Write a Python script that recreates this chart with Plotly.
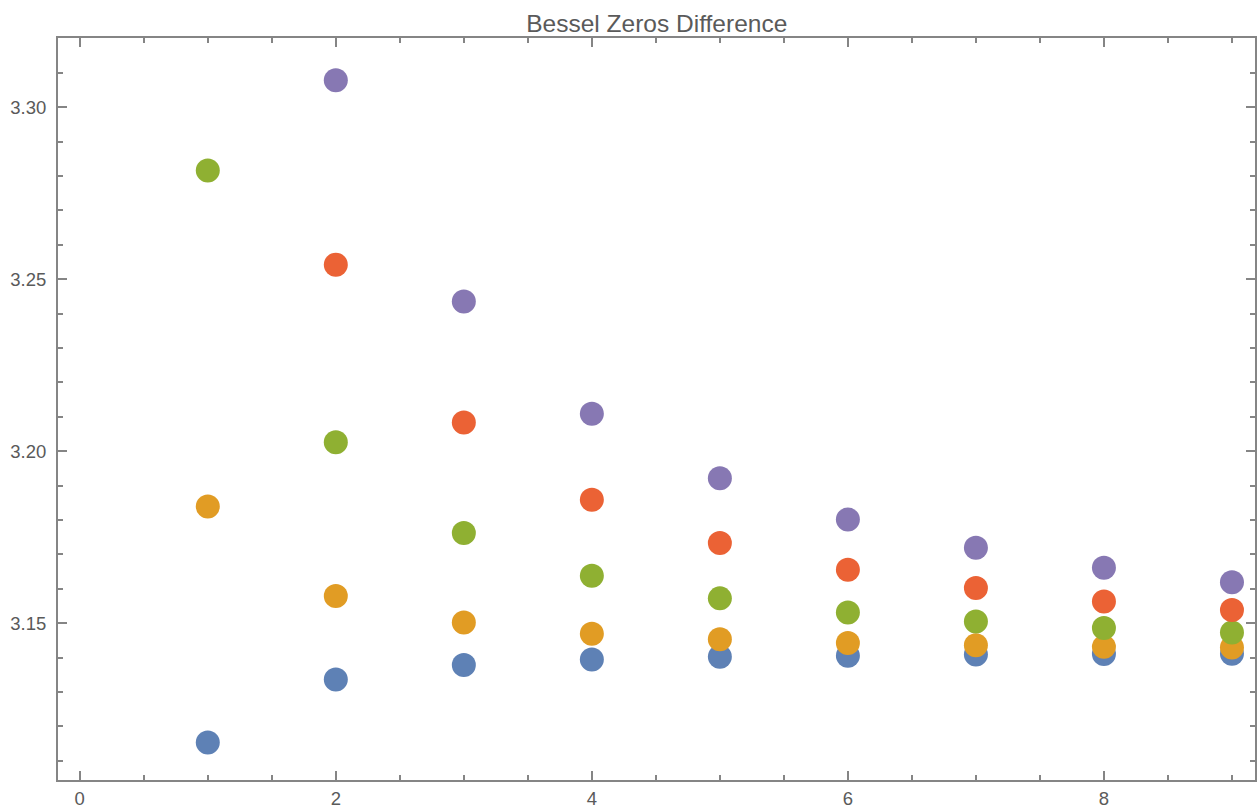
import plotly.graph_objects as go

# Spacing between consecutive zeros of J_n, for n = 0..4
idx_full = [1, 2, 3, 4, 5, 6, 7, 8, 9]
idx_from2 = [2, 3, 4, 5, 6, 7, 8, 9]

diff_j0 = [3.1153, 3.1336, 3.1378, 3.1394, 3.1402, 3.1405, 3.1409, 3.1410, 3.1411]
diff_j1 = [3.1839, 3.1579, 3.1502, 3.1469, 3.1453, 3.1442, 3.1436, 3.1431, 3.1429]
diff_j2 = [3.2816, 3.2026, 3.1762, 3.1638, 3.1572, 3.1531, 3.1505, 3.1486, 3.1473]
diff_j3 = [3.2542, 3.2083, 3.1859, 3.1733, 3.1655, 3.1602, 3.1563, 3.1538]
diff_j4 = [3.3078, 3.2435, 3.2109, 3.1921, 3.1801, 3.1719, 3.1661, 3.1619]

series = [
    ("J0", idx_full, diff_j0, "#5E81B5"),
    ("J1", idx_full, diff_j1, "#E19C24"),
    ("J2", idx_full, diff_j2, "#8FB032"),
    ("J3", idx_from2, diff_j3, "#EB6235"),
    ("J4", idx_from2, diff_j4, "#8778B3"),
]

x_ticks = [0, 2, 4, 6, 8]
y_ticks = [3.15, 3.20, 3.25, 3.30]

fig = go.Figure()
for name, xs, ys, color in series:
    fig.add_trace(go.Scatter(
        x=xs, y=ys, mode="markers", name=name,
        marker=dict(size=24, color=color, line=dict(width=0)),
    ))

frame_color = "#858585"
label_font = dict(family="Liberation Sans, Arial, sans-serif", size=18.5, color="#5a5a5a")

axis_common = dict(
    showline=True, linecolor=frame_color, linewidth=2,
    mirror="ticks", ticks="inside", ticklen=9, tickwidth=1.5, tickcolor=frame_color,
    showgrid=False, zeroline=False, tickfont=label_font, automargin=False,
)

fig.update_xaxes(
    range=[-0.17, 9.18], tickvals=x_ticks, ticktext=[str(v) for v in x_ticks],
    minor=dict(dtick=0.5, tick0=0, ticks="inside", ticklen=5, tickwidth=1.5,
               tickcolor=frame_color, showgrid=False),
    ticklabelstandoff=1,
    **axis_common,
)
fig.update_yaxes(
    range=[3.1044, 3.3201], tickvals=y_ticks, ticktext=[f"{v:.2f}" for v in y_ticks],
    minor=dict(dtick=0.01, tick0=3.0, ticks="inside", ticklen=5, tickwidth=1.5,
               tickcolor=frame_color, showgrid=False),
    ticklabelstandoff=6,
    **axis_common,
)

fig.update_layout(
    width=1257, height=812,
    margin=dict(l=58, r=2, t=38, b=32),
    paper_bgcolor="white", plot_bgcolor="white",
    showlegend=False,
    title=dict(
        text="Bessel Zeros Difference",
        x=0.5225, xanchor="center", xref="container",
        y=1 - 23 / 812, yanchor="middle", yref="container",
        font=dict(family="Liberation Sans, Arial, sans-serif", size=24.5, color="#5a5a5a"),
    ),
)

fig.write_html("out.html")
